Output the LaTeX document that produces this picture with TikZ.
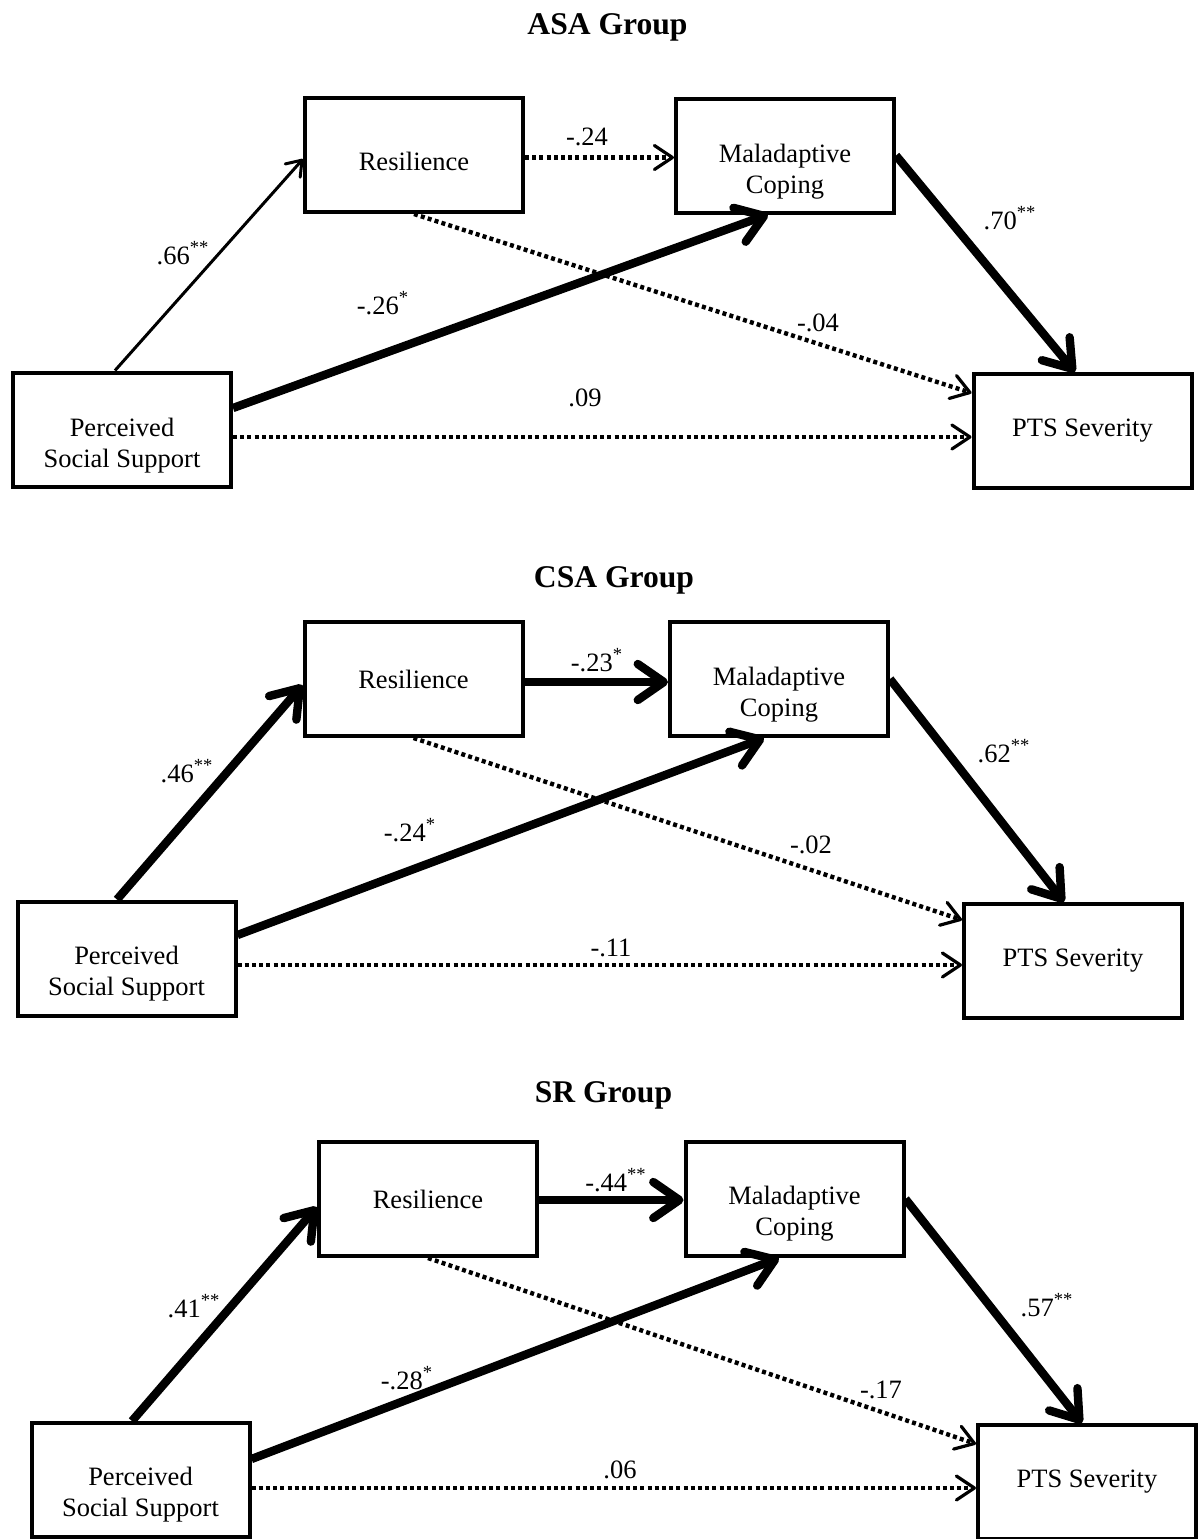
\documentclass[tikz,border=0pt]{standalone}
\usepackage{fontspec}
\setmainfont{Liberation Serif}
\usetikzlibrary{arrows.meta}
\begin{document}
\begin{tikzpicture}[x=0.5pt,y=-0.5pt,
  box/.style={draw, line width=2pt, minimum width=109pt, minimum height=57pt, inner sep=0pt},
  txt/.style={align=center, font=\fontsize{13.25}{15.5}\selectfont, inner sep=0pt},
  lab/.style={font=\fontsize{13.25}{15.5}\selectfont, inner sep=0pt},
  ttl/.style={font=\fontsize{15.8}{19}\selectfont\bfseries, inner sep=0pt},
  thinarr/.style={line width=1.5pt, -{Straight Barb[length=7pt,width=10pt,round]}},
  heavyarr/.style={line width=4.2pt, -{Straight Barb[length=13pt,width=18pt,round]}},
  dotarr/.style={line width=2.2pt, dash pattern=on 2pt off 1.6pt, -{Straight Barb[length=9pt,width=12pt,round,line width=1.6pt]}}
]
\useasboundingbox (0,0) rectangle (1199,1539);

% ---------------- ASA Group ----------------
\node[ttl] (ttl1) at (607.5,27) {ASA Group};
\node[box] (res1) at (414,155) {};
\node[txt] (res1t) at ([yshift=-3pt]res1.center) {Resilience};
\node[box] (mal1) at (785,155.5) {};
\node[txt] (mal1t) at ([yshift=-8pt]mal1.center) {Maladaptive\\Coping};
\node[box] (pss1) at (122,429.5) {};
\node[txt] (pss1t) at ([yshift=-8pt]pss1.center) {Perceived\\Social Support};
\node[box] (pts1) at (1082.5,431) {};
\node[txt] (pts1t) at (pts1.center) {PTS Severity};

\draw[thinarr] ([xshift=-3.5pt]pss1.north) -- ([yshift=-2pt]res1.west);
\draw[heavyarr] ([yshift=10.75pt]pss1.east) -- ([xshift=-8.5pt]mal1.south);
\coordinate (c1) at ([yshift=-1pt]mal1.west);
\draw[dotarr] (c1 -| res1.east) -- (c1);
\draw[dotarr] (res1.south) -- ([yshift=19pt]pts1.west);
\coordinate (e1) at ([yshift=-3pt]pts1.west);
\draw[dotarr] (e1 -| pss1.east) -- (e1);
\draw[heavyarr] (mal1.east) -- ([xshift=-3.75pt]pts1.north);

\node[lab] (l1a) at (183,253) {.66\textsuperscript{**}};
\node[lab] (l1b) at (383,303) {-.26\textsuperscript{*}};
\node[lab] (l1c) at (587,137) {-.24};
\node[lab] (l1d) at (818,323) {-.04};
\node[lab] (l1e) at (585,398) {.09};
\node[lab] (l1f) at (1010,218) {.70\textsuperscript{**}};

% ---------------- CSA Group ----------------
\node[ttl] (ttl2) at (614,580) {CSA Group};
\node[box] (res2) at (413.5,679) {};
\node[txt] (res2t) at (res2.center) {Resilience};
\node[box] (mal2) at (779,679) {};
\node[txt] (mal2t) at ([yshift=-8pt]mal2.center) {Maladaptive\\Coping};
\node[box] (pss2) at (126.5,958.5) {};
\node[txt] (pss2t) at ([yshift=-7.5pt]pss2.center) {Perceived\\Social Support};
\node[box] (pts2) at (1073,961) {};
\node[txt] (pts2t) at (pts2.center) {PTS Severity};

\draw[heavyarr] ([xshift=-4.75pt]pss2.north) -- ([yshift=-3pt]res2.west);
\draw[heavyarr] ([yshift=11.75pt]pss2.east) -- ([xshift=-7.5pt]mal2.south);
\coordinate (c2) at ([yshift=-1.5pt]mal2.west);
\draw[heavyarr] (c2 -| res2.east) -- (c2);
\draw[dotarr] (res2.south) -- ([yshift=20.5pt]pts2.west);
\coordinate (e2) at ([yshift=-2pt]pts2.west);
\draw[dotarr] (e2 -| pss2.east) -- (e2);
\draw[heavyarr] (mal2.east) -- ([xshift=-4.5pt]pts2.north);

\node[lab] (l2a) at (187,771) {.46\textsuperscript{**}};
\node[lab] (l2b) at (410,830) {-.24\textsuperscript{*}};
\node[lab] (l2c) at (597,660) {-.23\textsuperscript{*}};
\node[lab] (l2d) at (811,845) {-.02};
\node[lab] (l2e) at (611,948) {-.11};
\node[lab] (l2f) at (1004,751) {.62\textsuperscript{**}};

% ---------------- SR Group ----------------
\node[ttl] (ttl3) at (603.5,1095) {SR Group};
\node[box] (res3) at (428,1199) {};
\node[txt] (res3t) at (res3.center) {Resilience};
\node[box] (mal3) at (794.5,1199) {};
\node[txt] (mal3t) at ([yshift=-7.5pt]mal3.center) {Maladaptive\\Coping};
\node[box] (pss3) at (140.5,1480) {};
\node[txt] (pss3t) at ([yshift=-7.5pt]pss3.center) {Perceived\\Social Support};
\node[box] (pts3) at (1087,1482) {};
\node[txt] (pts3t) at (pts3.center) {PTS Severity};

\draw[heavyarr] ([xshift=-4.25pt]pss3.north) -- ([yshift=-4pt]res3.west);
\draw[heavyarr] ([yshift=10.5pt]pss3.east) -- ([xshift=-7.75pt]mal3.south);
\coordinate (c3) at ([yshift=-0.5pt]mal3.west);
\draw[heavyarr] (c3 -| res3.east) -- (c3);
\draw[dotarr] (res3.south) -- ([yshift=19pt]pts3.west);
\coordinate (e3) at ([yshift=-3pt]pts3.west);
\draw[dotarr] (e3 -| pss3.east) -- (e3);
\draw[heavyarr] (mal3.east) -- ([xshift=-2.5pt]pts3.north);

\node[lab] (l3a) at (194,1306) {.41\textsuperscript{**}};
\node[lab] (l3b) at (407,1378) {-.28\textsuperscript{*}};
\node[lab] (l3c) at (616,1180) {-.44\textsuperscript{**}};
\node[lab] (l3d) at (881,1390) {-.17};
\node[lab] (l3e) at (620,1470) {.06};
\node[lab] (l3f) at (1047,1305) {.57\textsuperscript{**}};
\end{tikzpicture}
\end{document}
